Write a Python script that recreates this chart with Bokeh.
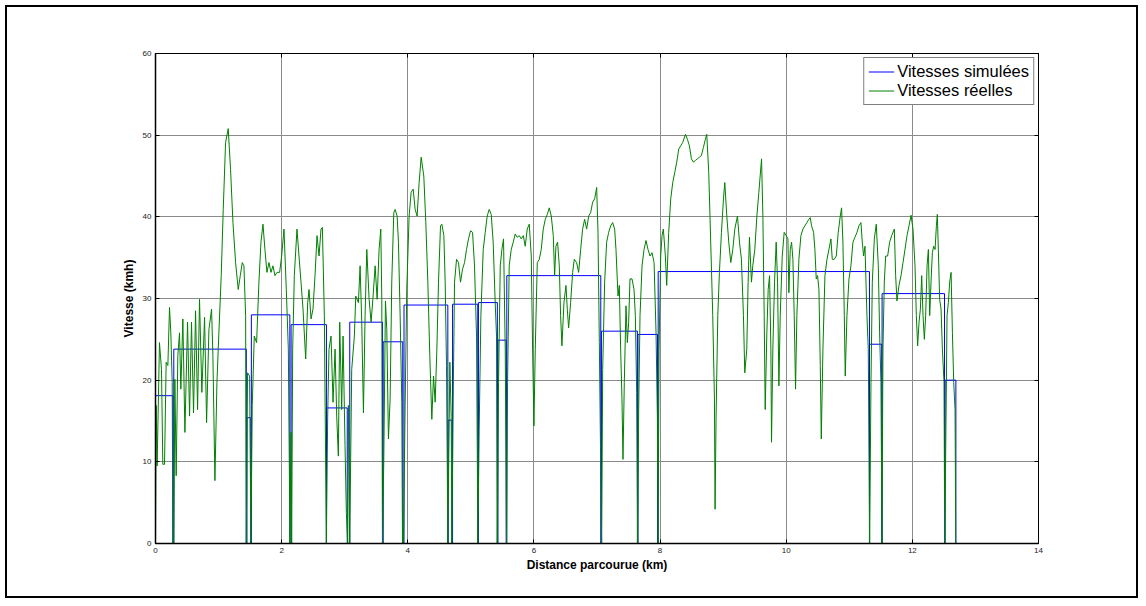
from bokeh.plotting import figure
from bokeh.models import Range1d, LinearAxis, FixedTicker, CustomJSTickFormatter, Column
from bokeh.embed import file_html
from bokeh.resources import INLINE

# ---- simulated speeds: constant-speed segments (km, km, km/h)
sim_start = [0.000, 0.290, 1.450, 1.520, 2.150, 2.710, 3.080, 3.610, 3.940, 4.640, 4.710, 5.120, 5.430, 5.570, 7.070, 7.650, 7.970, 11.320, 11.520, 12.520]
sim_end   = [0.275, 1.440, 1.510, 2.130, 2.710, 3.040, 3.600, 3.920, 4.635, 4.700, 5.110, 5.420, 5.560, 7.060, 7.640, 7.960, 11.320, 11.515, 12.510, 12.690]
sim_speed = [18.1, 23.8, 15.4, 28.0, 26.8, 16.6, 27.1, 24.7, 29.2, 15.1, 29.3, 29.5, 24.9, 32.8, 26.0, 25.6, 33.3, 24.4, 30.6, 20.0]

real_km = [
0.000,0.011,0.026,0.063,0.095,0.116,0.143,0.169,0.196,0.222,0.243,0.265,0.275,0.291,0.307,0.328,0.354,0.381,0.402,0.434,
0.466,0.508,0.540,0.571,0.603,0.635,0.667,0.698,0.735,0.778,0.810,0.847,0.889,0.910,0.942,0.974,1.005,1.042,1.074,1.111,
1.153,1.190,1.228,1.270,1.312,1.344,1.376,1.402,1.429,1.439,1.460,1.492,1.513,1.534,1.566,1.603,1.640,1.672,1.704,1.735,
1.767,1.799,1.831,1.862,1.894,1.926,1.968,2.000,2.037,2.074,2.106,2.132,2.148,2.159,2.175,2.201,2.243,2.275,2.307,2.339,
2.381,2.413,2.434,2.466,2.497,2.529,2.561,2.593,2.624,2.646,2.677,2.709,2.730,2.751,2.783,2.815,2.847,2.873,2.899,2.921,
2.952,2.974,3.005,3.026,3.048,3.058,3.079,3.111,3.153,
3.175,3.217,3.244,3.270,3.297,3.323,3.350,3.387,3.418,3.450,3.482,3.514,3.545,3.572,3.588,3.598,3.619,3.646,3.667,3.693,
3.720,3.746,3.778,3.799,3.831,3.852,3.879,3.905,3.916,3.931,3.958,3.984,4.021,4.053,4.085,4.117,4.148,4.180,4.212,4.254,
4.286,4.318,4.349,4.381,4.408,4.434,4.461,4.487,4.519,4.540,4.572,4.593,4.614,4.635,4.667,4.688,4.699,4.720,4.741,4.773,
4.804,4.836,4.868,4.900,4.931,4.963,4.995,5.027,5.058,5.090,5.111,5.132,5.159,5.196,5.228,5.259,5.291,5.323,5.354,5.386,
5.407,5.418,5.439,5.466,5.492,5.518,5.545,5.566,5.582,5.608,5.640,5.672,5.704,5.735,5.767,5.799,5.831,5.862,5.894,5.926,
5.958,5.979,6.000,6.021,6.053,6.085,6.116,6.148,6.180,6.212,6.243,6.275,6.307,6.328,
6.349,6.375,6.402,6.423,6.444,6.476,6.508,6.529,6.550,6.582,6.614,6.640,6.677,6.709,6.741,6.772,6.804,6.836,6.868,6.899,
6.931,6.963,6.995,7.016,7.037,7.058,7.074,7.090,7.121,7.153,7.185,7.217,7.248,7.280,7.301,7.333,7.354,7.375,7.396,7.412,
7.433,7.460,7.481,7.502,7.523,7.555,7.587,7.608,7.629,7.645,7.661,7.682,7.714,7.746,7.777,7.809,7.841,7.873,7.905,7.936,
7.957,7.968,7.984,8.010,8.031,8.052,8.084,8.105,8.137,8.169,8.201,8.232,8.264,8.296,8.327,8.359,8.402,8.433,8.465,8.497,
8.528,8.560,8.592,8.624,8.655,8.687,8.719,8.740,8.772,8.803,8.835,8.862,8.872,8.888,8.915,8.941,8.973,9.005,9.026,9.058,
9.089,9.121,9.153,9.185,9.227,9.259,9.290,9.322,9.343,9.375,9.396,9.417,9.449,9.470,9.502,
9.535,9.566,9.609,9.630,9.651,9.667,9.693,9.714,9.736,9.757,9.767,9.788,9.815,9.841,9.863,9.884,9.905,9.937,9.968,10.000,
10.027,10.042,10.064,10.085,10.106,10.127,10.148,10.169,10.201,10.233,10.265,10.296,10.328,10.360,10.381,10.402,10.434,10.455,10.476,10.497,
10.519,10.540,10.556,10.582,10.614,10.646,10.677,10.709,10.730,10.762,10.794,10.825,10.857,10.878,10.899,10.921,10.936,10.963,10.995,11.026,
11.058,11.090,11.122,11.153,11.185,11.206,11.227,11.249,11.280,11.301,11.323,11.344,11.365,11.397,11.428,11.460,11.481,11.502,11.518,11.534,
11.555,11.577,11.608,11.640,11.672,11.714,11.735,11.756,11.788,11.820,11.852,11.883,11.915,11.947,11.979,12.010,12.042,12.063,12.084,12.106,
12.127,12.148,12.169,12.190,12.211,12.233,12.254,12.275,12.296,12.317,12.338,12.360,12.381,12.396,12.412,12.433,12.455,12.476,12.502,12.513,
12.529,12.550,12.571,12.592,12.614,12.635,12.656,12.677,12.688]

real_speed = [
0,16.9,9.5,24.6,21.3,9.7,9.7,22.2,21.8,28.9,25.8,19.7,0,0,20.1,8.3,23.0,25.8,18.9,27.5,
13.6,27.1,15.6,27.1,16.0,28.5,16.4,29.9,18.5,27.7,14.8,26.2,28.7,23.0,7.7,19.7,25.8,32.8,40.9,49.1,
50.8,45.8,39.3,34.4,31.1,32.8,34.4,34.0,27.9,0,20.9,20.5,0,16.9,25.4,24.6,32.0,36.9,39.1,36.0,
33.2,34.4,33.2,34.0,32.8,33.2,33.2,35.2,38.5,31.1,23.8,0,13.6,0,23.8,32.8,38.5,35.2,32.0,28.7,
22.6,29.5,31.1,27.5,28.7,32.8,37.7,35.2,38.5,38.7,27.9,0,15.6,23.8,25.4,17.3,23.8,15.6,10.7,27.1,
16.4,25.4,12.0,3.8,0,16.9,0,21.3,25.4,
30.3,29.5,34.0,27.1,16.0,27.9,36.0,29.9,27.1,30.3,34.0,29.9,36.0,38.5,29.9,0,9.9,29.7,26.2,12.8,
17.7,32.0,40.5,40.9,40.1,36.9,27.9,17.3,0,0,16.9,31.1,40.1,43.0,43.4,40.9,40.1,44.2,47.3,45.0,
39.3,32.0,23.0,15.2,20.5,17.3,23.8,32.0,38.9,39.1,37.7,32.0,21.8,0,22.2,15.6,0,17.7,32.0,34.8,
34.4,32.0,33.6,34.4,36.0,37.3,38.3,38.1,34.0,25.4,0,14.0,27.9,36.0,38.1,40.1,40.9,40.3,36.9,29.5,
25.4,0,19.7,34.0,36.0,37.3,23.8,0,19.7,34.0,36.0,36.9,37.9,37.5,37.7,37.3,37.7,36.4,38.5,39.1,
35.2,23.8,14.4,23.8,34.4,34.8,36.0,38.5,39.7,40.3,41.1,40.1,37.7,32.8,
36.4,36.9,34.0,27.9,24.2,29.5,31.6,28.7,26.4,29.5,33.2,34.8,34.4,33.2,36.0,38.5,39.7,38.5,40.1,40.5,
41.8,42.2,43.6,38.1,24.6,9.9,0,21.3,32.0,36.9,38.1,38.9,39.3,38.5,36.0,30.3,31.6,23.8,17.7,10.3,
19.7,29.1,24.6,27.1,32.4,32.4,31.1,27.9,18.5,0,16.4,27.9,34.0,36.0,37.1,36.0,35.2,35.6,34.4,25.8,
15.6,0,23.8,35.2,37.7,38.5,35.2,31.6,38.1,42.2,44.2,45.4,46.7,48.3,48.7,49.1,50.1,49.5,48.7,47.1,
46.7,46.9,47.1,47.3,47.5,48.5,49.5,50.1,45.4,36.9,27.9,17.7,4.2,15.6,27.9,33.2,38.1,42.2,44.2,40.1,
36.9,34.4,36.0,38.5,40.1,36.9,34.8,27.9,20.9,23.8,32.0,37.5,32.0,34.0,36.0,
40.1,43.0,47.1,40.1,27.9,16.4,25.8,31.1,32.8,23.8,12.4,23.8,32.0,36.9,32.0,19.3,27.9,35.2,38.1,37.7,
37.3,30.7,36.0,36.9,34.8,27.9,18.9,27.9,34.8,37.7,38.5,38.9,39.3,39.7,39.9,38.9,38.1,36.0,32.4,32.8,
31.1,21.8,12.8,23.8,32.8,34.8,36.0,37.3,34.8,34.8,35.2,38.1,40.1,41.1,36.9,27.9,20.5,27.9,32.4,34.0,
36.9,37.5,38.1,38.9,39.3,36.9,35.2,36.4,27.9,23.8,0,19.7,32.0,37.3,39.1,34.0,25.8,19.7,0,23.8,
32.0,35.2,35.2,36.9,37.7,38.5,32.8,29.7,31.6,32.8,34.4,36.0,37.7,38.9,40.2,38.5,34.0,27.9,24.2,27.1,
28.7,32.8,27.9,25.0,27.9,34.0,36.0,27.9,32.0,35.6,36.4,36.0,38.9,40.3,36.0,29.9,28.7,23.8,19.7,0,
11.6,27.9,29.5,32.0,33.2,25.8,19.7,16.4,0]

x_ticks = [0, 2, 4, 6, 8, 10, 12, 14]
y_ticks = [0, 10, 20, 30, 40, 50, 60]

# step path for simulated speeds (drop to zero between segments)
sx, sy = [], []
for a, b, v in zip(sim_start, sim_end, sim_speed):
    sx += [a, a, b, b]
    sy += [0, v, v, 0]

FONT = "Liberation Sans"

p = figure(width=1129, height=589, output_backend="svg", toolbar_location=None,
           x_range=Range1d(0, 14), y_range=Range1d(0, 60),
           min_border_left=148, min_border_right=98, min_border_top=46, min_border_bottom=53)
p.background_fill_color = "white"
p.border_fill_color = "white"
p.outline_line_color = "black"
p.outline_line_width = 1

p.line(sx, sy, color="#0000ff", line_width=1, legend_label="Vitesses simulées")
p.line(real_km, real_speed, color="#008000", line_width=1, legend_label="Vitesses réelles")

for ax in (p.xaxis[0], p.yaxis[0]):
    ax.major_tick_in = 4
    ax.major_tick_out = 0
    ax.minor_tick_line_color = None
    ax.axis_line_color = "black"
    ax.axis_line_width = 1.5
    ax.major_label_text_font = FONT
    ax.major_label_text_font_size = "8px"
    ax.major_label_text_color = "#222222"
    ax.axis_label_text_font = FONT
    ax.axis_label_text_font_style = "bold"
    ax.axis_label_text_font_size = "12px"
    ax.axis_label_text_color = "black"

p.xaxis[0].ticker = FixedTicker(ticks=x_ticks)
p.yaxis[0].ticker = FixedTicker(ticks=y_ticks)
p.xaxis[0].axis_label = "Distance parcourue (km)"
p.yaxis[0].axis_label = "Vitesse (kmh)"
p.xaxis[0].major_label_standoff = 4
p.yaxis[0].major_label_standoff = 4
p.xaxis[0].axis_label_standoff = 2
p.yaxis[0].axis_label_standoff = 4

blank = CustomJSTickFormatter(code="return ''")
top = LinearAxis(ticker=FixedTicker(ticks=x_ticks), formatter=blank, major_tick_in=4, major_tick_out=0,
                 minor_tick_line_color=None, axis_line_color="black")
right = LinearAxis(ticker=FixedTicker(ticks=y_ticks), formatter=blank, major_tick_in=4, major_tick_out=0,
                   minor_tick_line_color=None, axis_line_color="black")
p.add_layout(top, "above")
p.add_layout(right, "right")

p.grid.grid_line_color = "#8a8a8a"
p.grid.grid_line_width = 1
p.xgrid.ticker = FixedTicker(ticks=x_ticks)
p.ygrid.ticker = FixedTicker(ticks=y_ticks)

lg = p.legend[0]
lg.location = "top_right"
lg.margin = 4
lg.padding = 4
lg.spacing = 0
lg.label_standoff = 3
lg.glyph_width = 26
lg.glyph_height = 19
lg.label_height = 19
lg.label_text_font = FONT
lg.label_text_font_size = "16.5px"
lg.label_text_color = "black"
lg.border_line_color = "black"
lg.border_line_width = 1
lg.background_fill_color = "white"
lg.background_fill_alpha = 1

page = Column(p, styles={"border": "2px solid black", "margin": "5px 0 0 5px"})

open("out.html", "w").write(file_html(page, INLINE))
